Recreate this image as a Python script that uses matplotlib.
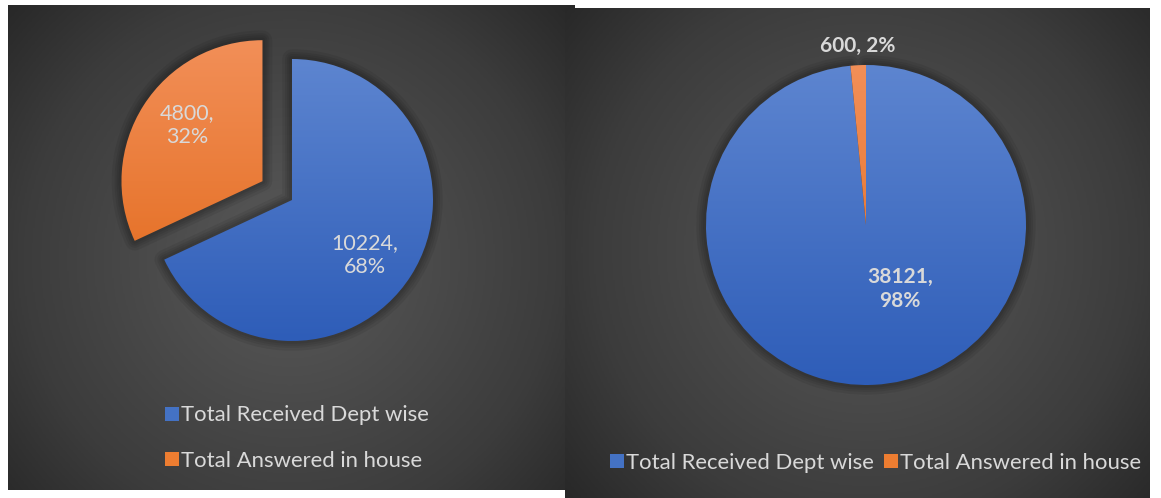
import numpy as np
import matplotlib.pyplot as plt
from matplotlib.colors import LinearSegmentedColormap
from matplotlib.lines import Line2D
from matplotlib.patches import Wedge

plt.rcParams["font.family"] = ["Lato", "DejaVu Sans"]

categories = ["Total Received Dept wise", "Total Answered in house"]
left_values = [10224, 4800]
right_values = [38121, 600]

W, H = 1161, 498
TXT = "#D9D9D9"
LEG_COLORS = ["#4472C4", "#ED7D31"]
blue_cmap = LinearSegmentedColormap.from_list("b", ["#2E5DB8", "#5D85D0"])
orange_cmap = LinearSegmentedColormap.from_list("o", ["#E2691A", "#F28F58"])
bg_cmap = LinearSegmentedColormap.from_list(
    "bg", [(0, "#5a5a5a"), (0.7, "#3c3c3c"), (1, "#282828")])


def y_(yy):
    # image row -> axes y (origin at bottom)
    return H - yy


def background(ax, x0, x1, y0, y1, cx, cy):
    xs = np.linspace(x0, x1, 400)
    ys = np.linspace(y0, y1, 400)
    gx, gy = np.meshgrid(xs, ys)
    d = np.sqrt((gx - cx) ** 2 + (gy - cy) ** 2)
    d = d / d.max()
    ax.imshow(d, cmap=bg_cmap, extent=(x0, x1, y_(y1), y_(y0)),
              origin="upper", aspect="auto", zorder=0, vmin=0, vmax=1)


def shadows(ax, wedges):
    for w in wedges:
        for lw in [14, 10, 7, 4]:
            s = Wedge(w.center, w.r, w.theta1, w.theta2, facecolor="none",
                      edgecolor="black", linewidth=lw, alpha=0.07,
                      joinstyle="round", zorder=1)
            ax.add_patch(s)


def gradient_fill(ax, wedges, cmaps):
    grad = np.linspace(0, 1, 256).reshape(-1, 1)
    for w, cm in zip(wedges, cmaps):
        x0, y0 = w.center[0] - w.r, w.center[1] - w.r
        im = ax.imshow(grad, cmap=cm, origin="lower", aspect="auto",
                       extent=(x0, x0 + 2 * w.r, y0, y0 + 2 * w.r), zorder=2)
        im.set_clip_path(w)
        w.set_facecolor("none")


fig = plt.figure(figsize=(W / 100, H / 100), dpi=100)
fig.patch.set_facecolor("white")
ax = fig.add_axes([0, 0, 1, 1])

background(ax, 8, 575, 5, 490, 290, 260)
background(ax, 565, 1150, 8, 498, 866, 250)

# left pie, orange slice pulled out (explode is in data units here)
r1 = 141
wl, _ = ax.pie(left_values, center=(292, y_(200)), radius=r1, startangle=90,
               counterclock=False, explode=[0, 35], frame=True,
               wedgeprops=dict(linewidth=0, zorder=2))
shadows(ax, wl)
gradient_fill(ax, wl, [blue_cmap, orange_cmap])
tot = sum(left_values)
lbl_pos = [(365, 255), (187, 125)]
for v, (px, py) in zip(left_values, lbl_pos):
    ax.text(px, y_(py), f"{v},\n{v / tot:.0%}", color=TXT, fontsize=15.5,
            ha="center", va="center", linespacing=1.25, zorder=5)

# right pie
r2 = 160
wr, _ = ax.pie(right_values, center=(866, y_(225)), radius=r2, startangle=90,
               counterclock=False, frame=True,
               wedgeprops=dict(linewidth=0, zorder=2))
shadows(ax, wr[:1])
gradient_fill(ax, wr, [blue_cmap, orange_cmap])
tot = sum(right_values)
ax.text(900, y_(289), f"{right_values[0]},\n{right_values[0] / tot:.0%}",
        color=TXT, fontsize=15, fontweight="bold", ha="center", va="center",
        linespacing=1.3, zorder=5)
ax.text(858, y_(46), f"{right_values[1]}, {right_values[1] / tot:.0%}",
        color=TXT, fontsize=15, fontweight="bold", ha="center", va="center", zorder=5)

ax.set_xlim(0, W)
ax.set_ylim(0, H)
ax.set_aspect("auto")
ax.axis("off")

handles = [Line2D([], [], marker="s", linestyle="none", markersize=9.5,
                  markerfacecolor=c, markeredgewidth=0) for c in LEG_COLORS]

leg1 = ax.legend(handles, categories, loc="center left",
                 bbox_to_anchor=(155 / W, 1 - 438 / H), frameon=False,
                 fontsize=15.9, labelcolor=TXT, handlelength=0.55,
                 handletextpad=0.12, labelspacing=1.15, borderpad=0)
ax.add_artist(leg1)
ax.legend(handles, categories, loc="center left",
          bbox_to_anchor=(600 / W, 1 - 463 / H), frameon=False, ncol=2,
          fontsize=15.9, labelcolor=TXT, handlelength=0.55,
          handletextpad=0.12, columnspacing=0.5, borderpad=0)

fig.savefig("out.png", dpi=100, facecolor="white")
